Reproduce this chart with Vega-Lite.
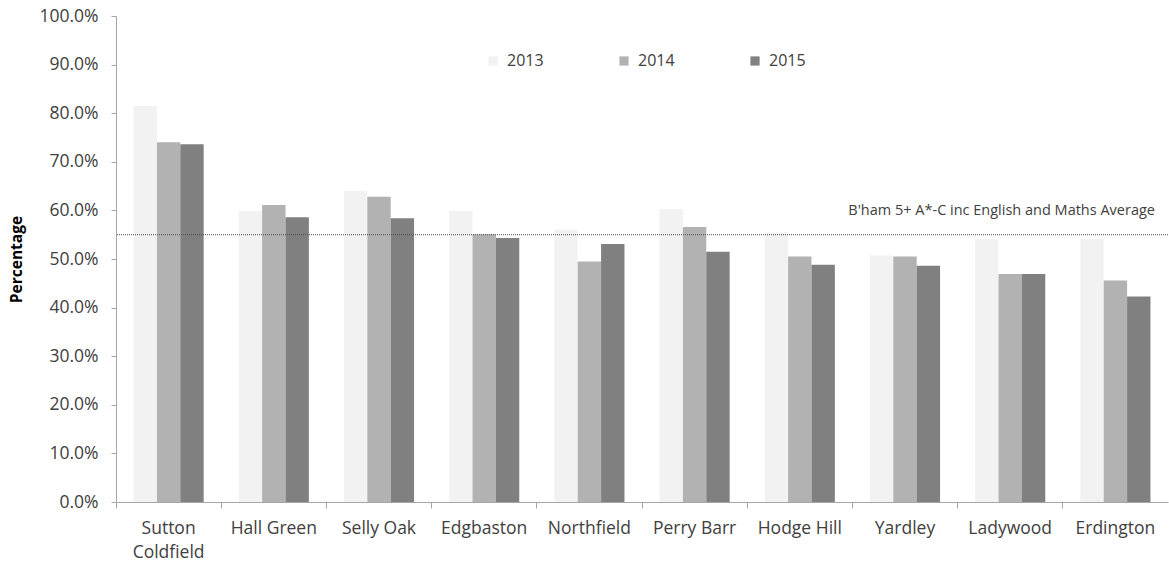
{
  "$schema": "https://vega.github.io/schema/vega-lite/v6.json",
  "width": 1052,
  "height": 486,
  "autosize": "none",
  "padding": {"left": 116, "top": 16, "right": 1, "bottom": 66},
  "background": "white",
  "config": {
    "view": {"stroke": null},
    "font": "Open Sans",
    "axis": {"labelFont": "Open Sans", "titleFont": "Open Sans", "grid": false},
    "legend": {"labelFont": "Open Sans"}
  },
  "datasets": {
    "bars": [
      {"area": "Sutton Coldfield", "year": "2013", "pct": 0.815},
      {"area": "Sutton Coldfield", "year": "2014", "pct": 0.740},
      {"area": "Sutton Coldfield", "year": "2015", "pct": 0.736},
      {"area": "Hall Green", "year": "2013", "pct": 0.599},
      {"area": "Hall Green", "year": "2014", "pct": 0.611},
      {"area": "Hall Green", "year": "2015", "pct": 0.586},
      {"area": "Selly Oak", "year": "2013", "pct": 0.640},
      {"area": "Selly Oak", "year": "2014", "pct": 0.628},
      {"area": "Selly Oak", "year": "2015", "pct": 0.584},
      {"area": "Edgbaston", "year": "2013", "pct": 0.599},
      {"area": "Edgbaston", "year": "2014", "pct": 0.551},
      {"area": "Edgbaston", "year": "2015", "pct": 0.543},
      {"area": "Northfield", "year": "2013", "pct": 0.560},
      {"area": "Northfield", "year": "2014", "pct": 0.495},
      {"area": "Northfield", "year": "2015", "pct": 0.531},
      {"area": "Perry Barr", "year": "2013", "pct": 0.603},
      {"area": "Perry Barr", "year": "2014", "pct": 0.566},
      {"area": "Perry Barr", "year": "2015", "pct": 0.515},
      {"area": "Hodge Hill", "year": "2013", "pct": 0.555},
      {"area": "Hodge Hill", "year": "2014", "pct": 0.505},
      {"area": "Hodge Hill", "year": "2015", "pct": 0.488},
      {"area": "Yardley", "year": "2013", "pct": 0.507},
      {"area": "Yardley", "year": "2014", "pct": 0.505},
      {"area": "Yardley", "year": "2015", "pct": 0.486},
      {"area": "Ladywood", "year": "2013", "pct": 0.541},
      {"area": "Ladywood", "year": "2014", "pct": 0.469},
      {"area": "Ladywood", "year": "2015", "pct": 0.469},
      {"area": "Erdington", "year": "2013", "pct": 0.541},
      {"area": "Erdington", "year": "2014", "pct": 0.456},
      {"area": "Erdington", "year": "2015", "pct": 0.423}
    ],
    "avg": [{"pct": 0.55, "label": "B'ham 5+ A*-C inc English and Maths Average"}]
  },
  "layer": [
    {
      "data": {"name": "bars"},
      "mark": {"type": "bar"},
      "encoding": {
        "x": {
          "field": "area", "type": "nominal", "sort": null,
          "scale": {"paddingInner": 0, "paddingOuter": 0},
          "axis": {
            "title": null, "labelAngle": 0, "bandPosition": 0,
            "domainColor": "#a6a6a6", "tickColor": "#a6a6a6", "tickSize": 6,
            "labelFontSize": 17.5, "labelColor": "#404040", "labelPadding": 11,
            "labelLineHeight": 24, "labelBaseline": "top",
            "labelExpr": "datum.label == 'Sutton Coldfield' ? ['Sutton', 'Coldfield'] : datum.label"
          }
        },
        "xOffset": {
          "field": "year", "type": "nominal",
          "scale": {"paddingInner": 0, "paddingOuter": 0.75}
        },
        "y": {
          "field": "pct", "type": "quantitative",
          "scale": {"domain": [0, 1], "nice": false},
          "axis": {
            "title": "Percentage", "format": ".1%",
            "values": [0, 0.1, 0.2, 0.3, 0.4, 0.5, 0.6, 0.7, 0.8, 0.9, 1.0],
            "domainColor": "#a6a6a6", "tickColor": "#a6a6a6", "tickSize": 5,
            "labelFontSize": 17.5, "labelColor": "#404040", "labelPadding": 13,
            "titleFontSize": 15.5, "titleFontWeight": "bold", "titleColor": "#000000",
            "titleX": -92
          }
        },
        "color": {
          "field": "year", "type": "nominal",
          "scale": {"domain": ["2013", "2014", "2015"], "range": ["#f2f2f2", "#b2b2b2", "#808080"]},
          "legend": {
            "title": null, "orient": "none", "direction": "horizontal", "columns": 3,
            "legendX": 369, "legendY": 37, "padding": 0,
            "symbolType": "square", "symbolSize": 85, "symbolStrokeWidth": 0,
            "labelFontSize": 16, "labelColor": "#404040", "labelOffset": 6,
            "columnPadding": 72
          }
        }
      }
    },
    {
      "data": {"name": "avg"},
      "mark": {"type": "rule", "color": "#505050", "strokeWidth": 1, "strokeDash": [1, 1]},
      "encoding": {"y": {"field": "pct", "type": "quantitative"}}
    },
    {
      "data": {"name": "avg"},
      "mark": {"type": "text", "align": "right", "baseline": "middle", "x": {"expr": "width"}, "dx": -13, "dy": -24, "fontSize": 14.5, "color": "#404040", "font": "Open Sans"},
      "encoding": {
        "y": {"field": "pct", "type": "quantitative"},
        "text": {"field": "label"}
      }
    }
  ]
}
